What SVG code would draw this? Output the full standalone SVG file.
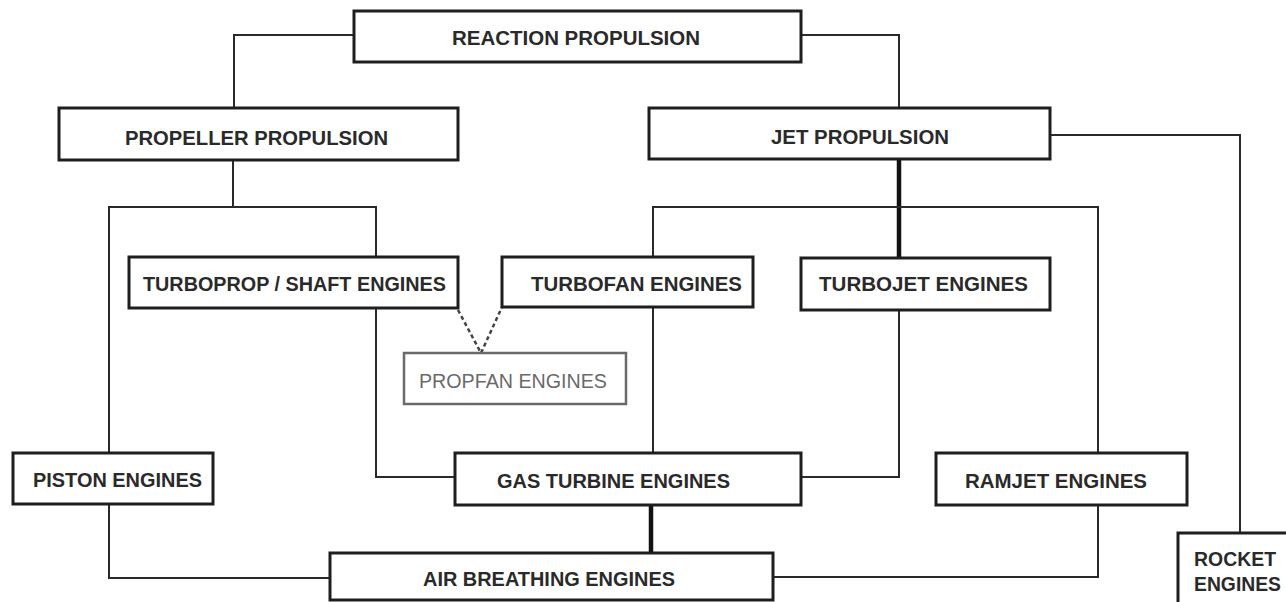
<svg xmlns="http://www.w3.org/2000/svg" width="1286" height="602" viewBox="0 0 1286 602">
<style>
.box{fill:#fff;stroke:#1e1e1e;stroke-width:3}
.pbox{fill:#fff;stroke:#6a6a6a;stroke-width:2.5}
.t{font-family:"Liberation Sans",Arial,sans-serif;font-weight:bold;font-size:20.5px;fill:#2a2a2a}
.pt{font-family:"Liberation Sans",Arial,sans-serif;font-size:20.5px;fill:#6a6a6a}
.c{fill:none;stroke:#2a2a2a;stroke-width:2}
.thick{fill:none;stroke:#111;stroke-width:4.5}
.dash{fill:none;stroke:#444;stroke-width:2.5;stroke-dasharray:4 3}
</style>
<rect width="1286" height="602" fill="#fff"/>
<g id="connectors">
<path class="c" d="M354 35 H234 V108"/>
<path class="c" d="M801 35 H899 V108"/>
<path class="c" d="M1050 135 H1240 V533"/>
<path class="c" d="M233 160 V207"/>
<path class="c" d="M109 453 V207 H376 V257"/>
<path class="thick" d="M899 159 V258"/>
<path class="c" d="M653 257 V207 H1098 V453"/>
<path class="dash" d="M458 310 L481 353 L502 307"/>
<path class="c" d="M376 308 V477 H455"/>
<path class="c" d="M653 307 V453"/>
<path class="c" d="M899 310 V477 H801"/>
<path class="thick" d="M651 505 V553"/>
<path class="c" d="M109 504 V578 H330"/>
<path class="c" d="M1098 505 V577 H773"/>
</g>
<g id="reaction"><rect class="box" x="354" y="11" width="447" height="51"/><text class="t" x="452" y="44.5" textLength="248" lengthAdjust="spacingAndGlyphs">REACTION PROPULSION</text></g>
<g id="propeller"><rect class="box" x="59" y="108" width="399" height="52"/><text class="t" x="125" y="144.5" textLength="263" lengthAdjust="spacingAndGlyphs">PROPELLER PROPULSION</text></g>
<g id="jet"><rect class="box" x="649" y="108" width="401" height="51"/><text class="t" x="771" y="143.5" textLength="178" lengthAdjust="spacingAndGlyphs">JET PROPULSION</text></g>
<g id="turboprop"><rect class="box" x="129" y="257" width="329" height="51"/><text class="t" x="143" y="290.5" textLength="303" lengthAdjust="spacingAndGlyphs">TURBOPROP / SHAFT ENGINES</text></g>
<g id="turbofan"><rect class="box" x="502" y="257" width="251" height="50"/><text class="t" x="531" y="290.5" textLength="211" lengthAdjust="spacingAndGlyphs">TURBOFAN  ENGINES</text></g>
<g id="turbojet"><rect class="box" x="801" y="258" width="249" height="52"/><text class="t" x="819" y="290.5" textLength="209" lengthAdjust="spacingAndGlyphs">TURBOJET ENGINES</text></g>
<g id="propfan"><rect class="pbox" x="404" y="353" width="222" height="51"/><text class="pt" x="419" y="387.5" textLength="188" lengthAdjust="spacingAndGlyphs">PROPFAN ENGINES</text></g>
<g id="piston"><rect class="box" x="13" y="453" width="200" height="51"/><text class="t" x="33" y="486.5" textLength="169" lengthAdjust="spacingAndGlyphs">PISTON ENGINES</text></g>
<g id="gasturbine"><rect class="box" x="455" y="453" width="346" height="52"/><text class="t" x="497" y="487.5" textLength="233" lengthAdjust="spacingAndGlyphs">GAS TURBINE ENGINES</text></g>
<g id="ramjet"><rect class="box" x="936" y="453" width="251" height="52"/><text class="t" x="965" y="487.5" textLength="182" lengthAdjust="spacingAndGlyphs">RAMJET  ENGINES</text></g>
<g id="airbreathing"><rect class="box" x="330" y="553" width="443" height="47"/><text class="t" x="423" y="585.5" textLength="252" lengthAdjust="spacingAndGlyphs">AIR BREATHING ENGINES</text></g>
<g id="rocket"><rect class="box" x="1178" y="533" width="120" height="80"/><text class="t" x="1194" y="566" textLength="82" lengthAdjust="spacingAndGlyphs">ROCKET</text><text class="t" x="1194" y="591" textLength="87" lengthAdjust="spacingAndGlyphs">ENGINES</text></g>
</svg>
